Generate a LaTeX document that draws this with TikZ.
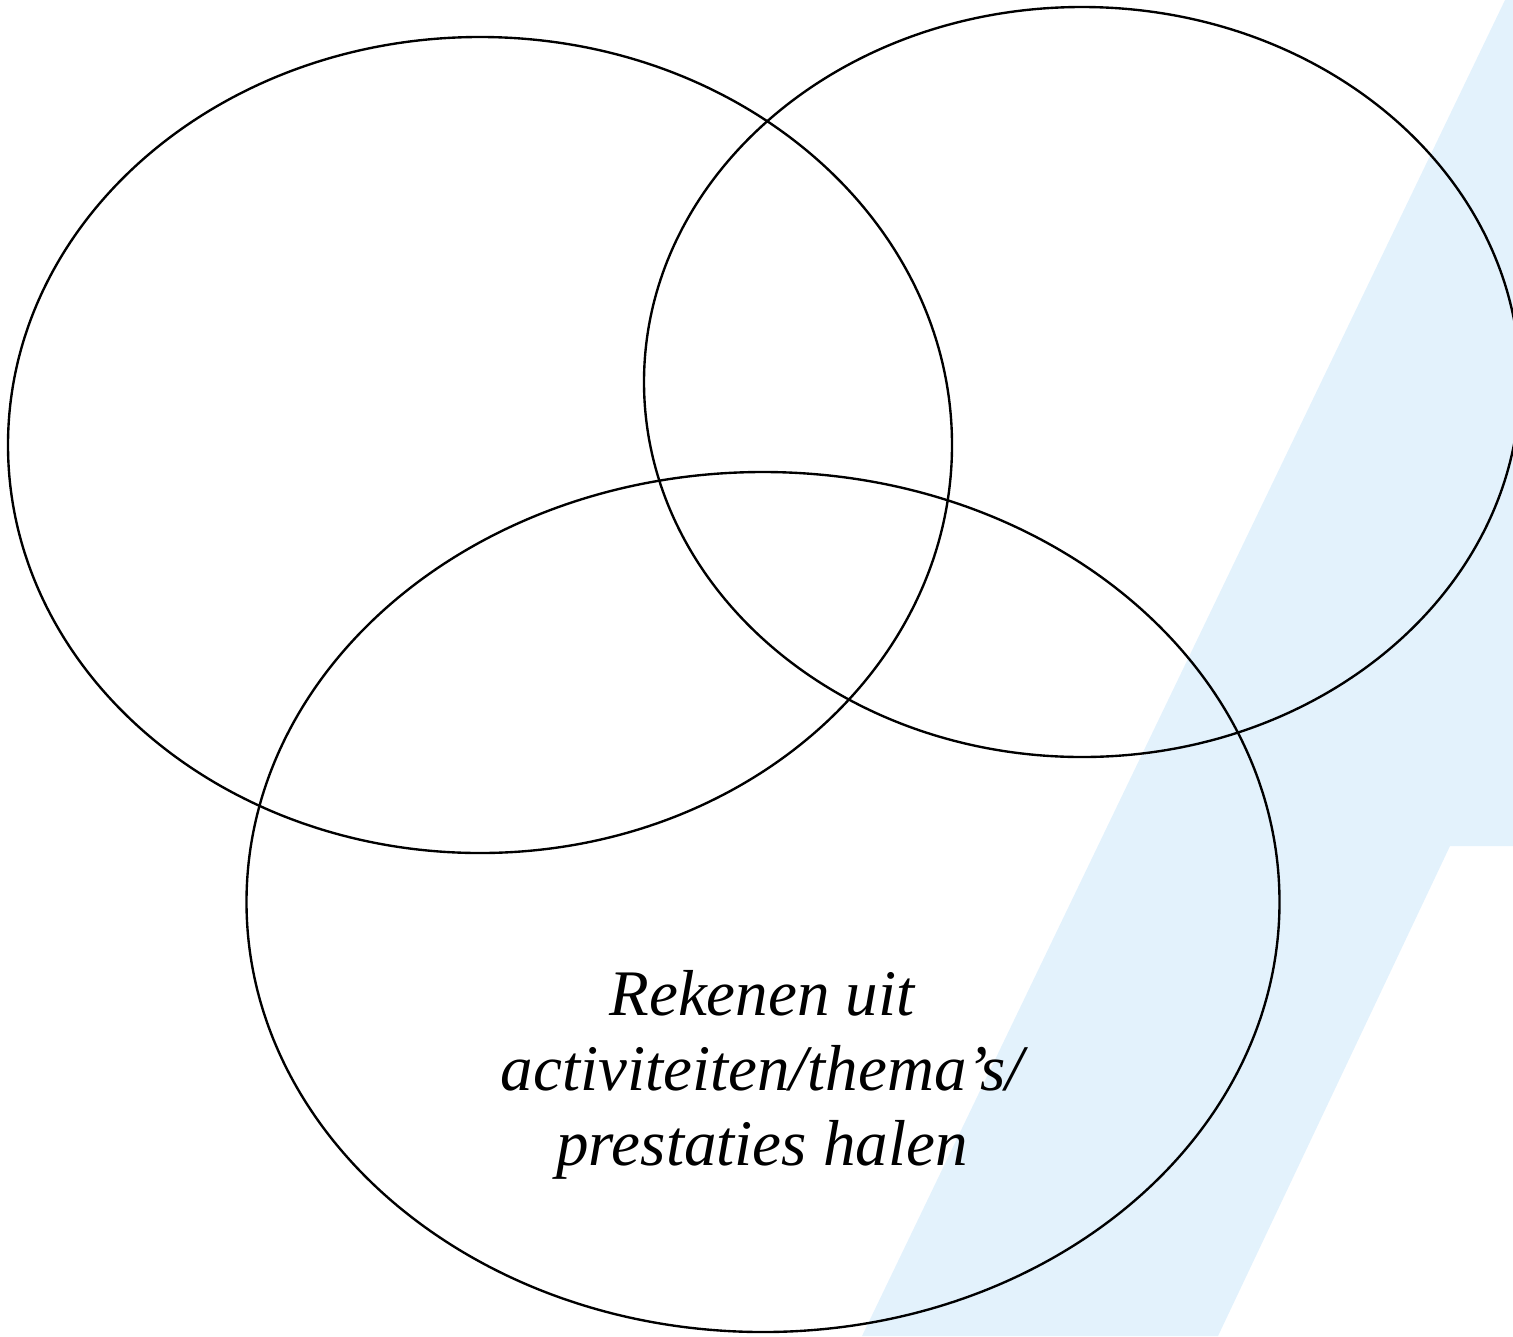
\documentclass[tikz,border=0pt]{standalone}
\usepackage{fontspec}
\setmainfont{Liberation Serif}
\definecolor{bandblue}{RGB}{227,242,252}
\tikzset{
  venn/.style={draw=black, line width=1.35pt},
  label/.style={font=\itshape\fontsize{37}{42.5}\selectfont, align=center, text=black}
}
\begin{document}
\begin{tikzpicture}[x=0.02cm,y=-0.02cm]
\useasboundingbox (0,0) rectangle (1513,1336);
\clip (0,0) rectangle (1513,1336);
% background band
\fill[bandblue] (1505,0) -- (1513,0) -- (1513,846) -- (1450,846) -- (1218,1336) -- (862,1336) -- cycle;
% ellipses
\draw[venn] (480,445) ellipse [x radius=472, y radius=408];
\draw[venn] (1082,382) ellipse [x radius=438, y radius=375];
\draw[venn] (763,902) ellipse [x radius=516.5, y radius=430];
% label
\node[label] (lbl) at (762,1075) {Rekenen uit\\activiteiten/thema’s/\\prestaties halen};
\end{tikzpicture}
\end{document}
